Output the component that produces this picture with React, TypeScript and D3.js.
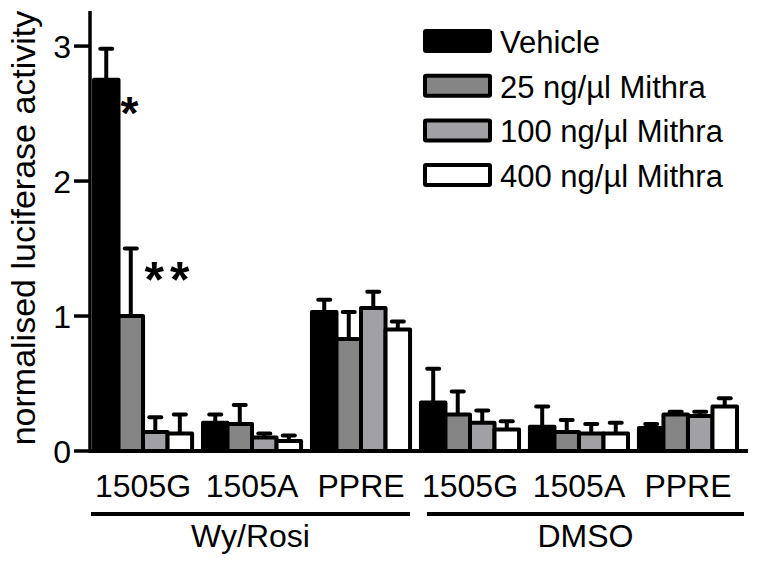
import * as d3 from 'd3'

const conditions = ['Wy/Rosi', 'DMSO']
const targets = ['1505G', '1505A', 'PPRE']
const seriesNames = ['Vehicle', '25 ng/µl Mithra', '100 ng/µl Mithra', '400 ng/µl Mithra']

// means, order: Wy/Rosi 1505G, 1505A, PPRE, DMSO 1505G, 1505A, PPRE
const vehicle = [2.75, 0.21, 1.03, 0.36, 0.18, 0.17]
const mithra25 = [1.0, 0.2, 0.83, 0.27, 0.14, 0.27]
const mithra100 = [0.14, 0.1, 1.06, 0.21, 0.13, 0.26]
const mithra400 = [0.13, 0.075, 0.9, 0.16, 0.13, 0.33]

// upper error (SEM)
const vehicleErr = [0.23, 0.06, 0.09, 0.25, 0.15, 0.03]
const mithra25Err = [0.5, 0.14, 0.2, 0.17, 0.09, 0.02]
const mithra100Err = [0.11, 0.03, 0.12, 0.09, 0.07, 0.03]
const mithra400Err = [0.14, 0.04, 0.06, 0.06, 0.08, 0.06]

const yTicks = [0, 1, 2, 3]

const seriesValues = [vehicle, mithra25, mithra100, mithra400]
const seriesErrors = [vehicleErr, mithra25Err, mithra100Err, mithra400Err]
const fills = ['#000000', '#858585', '#a1a1a5', '#ffffff']

const font = '"Liberation Sans", Arial, Helvetica, sans-serif'

export default function App() {
  const width = 758
  const height = 564

  const groupKeys = conditions.flatMap(c => targets.map(t => `${c}|${t}`))

  const y = d3.scaleLinear().domain([0, 3.26]).range([451, 11])
  const x0 = d3.scaleBand().domain(groupKeys).range([94, 737]).paddingInner(0.1)
  const x1 = d3.scaleBand().domain(seriesNames).range([0, x0.bandwidth()])

  const axisLeft = 90
  const axisRight = 748

  // underline inset per condition (left, right)
  const lineInset = [[-3, 0], [6, 7]]
  const condSpan = (c: string, ci: number) => {
    const keys = groupKeys.filter(k => k.startsWith(c + '|'))
    const a = x0(keys[0])! + lineInset[ci][0]
    const b = x0(keys[keys.length - 1])! + x0.bandwidth() + lineInset[ci][1]
    return [a, b]
  }

  const g0 = x0(groupKeys[0])!

  return (
    <svg width={width} height={height} style={{ position: 'absolute', left: 0, top: 0, background: '#fff' }} fontFamily={font}>
      {/* bars */}
      {groupKeys.map((k, gi) => (
        <g key={k} transform={`translate(${x0(k)},0)`}>
          {seriesNames.map((s, si) => {
            const v = seriesValues[si][gi]
            const e = seriesErrors[si][gi]
            const bx = x1(s)!
            const cx = bx + x1.bandwidth() / 2
            return (
              <g key={s}>
                <line x1={cx} x2={cx} y1={y(v)} y2={y(v + e)} stroke="#000" strokeWidth={4} />
                <line x1={cx - 6} x2={cx + 6} y1={y(v + e)} y2={y(v + e)} stroke="#000" strokeWidth={4} strokeLinecap="round" />
                <rect x={bx} y={y(v)} width={x1.bandwidth()} height={y(0) - y(v)} fill={fills[si]} stroke="#000" strokeWidth={4} strokeLinejoin="round" />
              </g>
            )
          })}
        </g>
      ))}

      {/* y axis */}
      <line x1={axisLeft} x2={axisLeft} y1={y.range()[1]} y2={y(0)} stroke="#000" strokeWidth={3.5} />
      {yTicks.map(t => (
        <g key={t}>
          <line x1={axisLeft - 16} x2={axisLeft} y1={y(t)} y2={y(t)} stroke="#000" strokeWidth={3.5} />
          <text x={71} y={y(t)} dy="0.36em" textAnchor="end" fontSize={32}>{t}</text>
        </g>
      ))}
      <text transform={`translate(35,228) rotate(-90)`} textAnchor="middle" fontSize={34}>normalised luciferase activity</text>

      {/* x axis */}
      <line x1={axisLeft - 1.5} x2={axisRight} y1={y(0)} y2={y(0)} stroke="#000" strokeWidth={4} />
      {groupKeys.map(k => (
        <text key={k} x={x0(k)! + x0.bandwidth() / 2} y={497} textAnchor="middle" fontSize={32}>{k.split('|')[1]}</text>
      ))}
      {conditions.map((c, ci) => {
        const [a, b] = condSpan(c, ci)
        return (
          <g key={c}>
            <line x1={a} x2={b} y1={514} y2={514} stroke="#000" strokeWidth={4} />
            <text x={(a + b) / 2} y={547} textAnchor="middle" fontSize={32}>{c}</text>
          </g>
        )
      })}

      {/* significance */}
      <text x={g0 + x1(seriesNames[0])! + x1.bandwidth() + 11} y={y(vehicle[0]) + 49} textAnchor="middle" fontSize={46} fontWeight="bold">*</text>
      <text x={g0 + x1(seriesNames[1])! + x1.bandwidth() + 27} y={y(mithra25[0]) - 19} textAnchor="middle" fontSize={50} fontWeight="bold" letterSpacing={6}>**</text>

      {/* legend */}
      {seriesNames.map((s, i) => (
        <g key={s} transform={`translate(425,${31 + i * 44.7})`}>
          <rect width={65} height={20} fill={fills[i]} stroke="#000" strokeWidth={4} rx={1} />
          <text x={75} y={22} fontSize={31}>{s}</text>
        </g>
      ))}
    </svg>
  )
}
